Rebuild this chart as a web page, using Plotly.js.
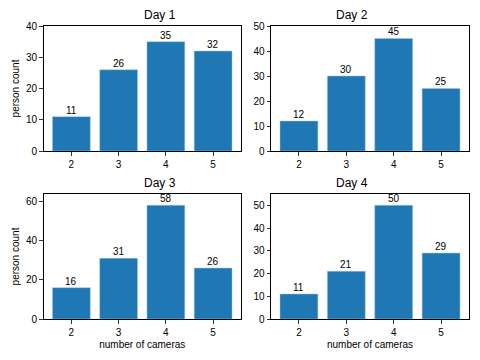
<!DOCTYPE html>
<html>
<head>
<meta charset="utf-8">
<script src="https://cdn.plot.ly/plotly-3.0.1.min.js"></script>
<style>
  html, body { margin: 0; padding: 0; background: white; }
  #chart { width: 480px; height: 360px; }
</style>
</head>
<body>
<div id="chart"></div>
<script>
// number of cameras per person, counted per day
const cameras = [2, 3, 4, 5];
const day1 = [11, 26, 35, 32];
const day2 = [12, 30, 45, 25];
const day3 = [16, 31, 58, 26];
const day4 = [11, 21, 50, 29];
const dayTitles = ['Day 1', 'Day 2', 'Day 3', 'Day 4'];
const yMax = [40, 50, 63.8, 55];
const yTicks = [[0, 10, 20, 30, 40], [0, 10, 20, 30, 40, 50], [0, 20, 40, 60], [0, 10, 20, 30, 40, 50]];

const barColor = '#1f77b4';
const font = 'Liberation Sans, Arial, sans-serif';
const series = [day1, day2, day3, day4];

const xDomains = [[43.5 / 480, 241 / 480], [271 / 480, 469 / 480], [43.5 / 480, 241 / 480], [271 / 480, 469 / 480]];
const yDomains = [[1 - 151 / 360, 1 - 26 / 360], [1 - 151 / 360, 1 - 26 / 360], [1 - 319 / 360, 1 - 194 / 360], [1 - 319 / 360, 1 - 194 / 360]];

const traces = [];
const annotations = [];
const layout = {
    width: 480,
    height: 360,
    margin: { t: 0, r: 0, b: 0, l: 0 },
    paper_bgcolor: 'white',
    plot_bgcolor: 'white',
    showlegend: false,
    bargap: 0.2,
    font: { family: font, size: 10, color: '#000' }
};

series.forEach((vals, i) => {
    const n = i + 1;
    const xa = n === 1 ? 'x' : 'x' + n;
    const ya = n === 1 ? 'y' : 'y' + n;
    traces.push({
        type: 'bar',
        x: cameras,
        y: vals,
        xaxis: xa,
        yaxis: ya,
        width: 0.8,
        marker: { color: barColor, line: { color: 'rgba(160,200,230,0.8)', width: 0.6 } },
        hoverinfo: 'x+y'
    });
    vals.forEach((v, k) => {
        annotations.push({
            x: cameras[k], y: v, xref: xa, yref: ya,
            text: String(v), showarrow: false,
            yanchor: 'bottom', yshift: -1,
            font: { family: font, size: 10, color: '#000' }
        });
    });
    annotations.push({
        x: (xDomains[i][0] + xDomains[i][1]) / 2,
        y: yDomains[i][1],
        xref: 'paper', yref: 'paper',
        text: dayTitles[i], showarrow: false,
        yanchor: 'bottom', yshift: 2,
        font: { family: font, size: 12, color: '#000' }
    });

    const axisCommon = {
        showline: true, linecolor: '#000', linewidth: 1, mirror: true,
        ticks: 'outside', ticklen: 3.5, tickcolor: '#000', tickwidth: 0.8,
        showgrid: false, zeroline: false, fixedrange: true,
        tickfont: { family: font, size: 10, color: '#000' }
    };
    layout['xaxis' + (n === 1 ? '' : n)] = {
        ...axisCommon,
        domain: xDomains[i],
        anchor: ya,
        range: [1.41, 5.59],
        tickvals: cameras,
        ticktext: cameras.map(String),
        title: n > 2 ? { text: 'number of cameras', font: { family: font, size: 10, color: '#000' }, standoff: 4 } : { text: '' }
    };
    layout['yaxis' + (n === 1 ? '' : n)] = {
        ...axisCommon,
        domain: yDomains[i],
        anchor: xa,
        range: [0, yMax[i]],
        tickvals: yTicks[i],
        title: n % 2 === 1 ? { text: 'person count', font: { family: font, size: 10, color: '#000' }, standoff: 4 } : { text: '' }
    };
});

layout.annotations = annotations;

Plotly.newPlot('chart', traces, layout, { displayModeBar: false, staticPlot: true });
</script>
</body>
</html>
